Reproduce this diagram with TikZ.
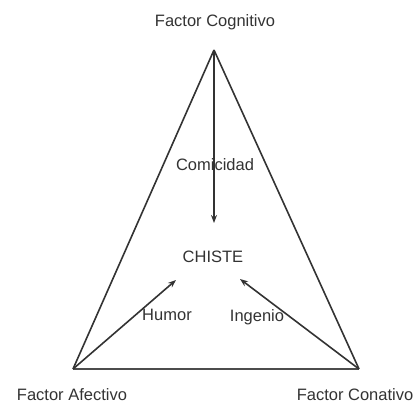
\documentclass[tikz,border=0pt]{standalone}
\usepackage{fontspec}
\setmainfont{Liberation Sans}
\usetikzlibrary{arrows.meta}
\begin{document}
\begin{tikzpicture}[x=1bp,y=-1bp,
  lbl/.style={inner sep=0pt,text=black!80,font=\fontsize{16.5bp}{19bp}\selectfont},
  edge/.style={draw=black!80,line width=1.6bp},
  arr/.style={draw=black!80,line width=1.6bp,-{Stealth[length=8bp,width=6bp]}}]
\useasboundingbox (0,0) rectangle (417,404);
\coordinate (top) at (214,50);
\coordinate (bl) at (73,369);
\coordinate (br) at (359,369);
\coordinate (endtop) at (214,223);
\coordinate (endl) at (176,280);
\coordinate (endr) at (240,279);
\node[lbl] (cog) at (215,22) {Factor Cognitivo};
\node[lbl] (afe) at (72,395) {Factor Afectivo};
\node[lbl] (con) at (355,395) {Factor Conativo};
\node[lbl] (chiste) at (213,257) {CHISTE};
\draw[edge] (top) -- (bl);
\draw[edge] (top) -- (br);
\draw[edge,draw=black!70,line width=2bp] (bl) -- (br);
\draw[arr] (top) -- (endtop);
\draw[arr] (bl) -- (endl);
\draw[arr] (br) -- (endr);
\node[lbl] (com) at (215,165) {Comicidad};
\node[lbl] (hum) at (167,315) {Humor};
\node[lbl] (ing) at (257,317) {Ingenio};
\end{tikzpicture}
\end{document}
